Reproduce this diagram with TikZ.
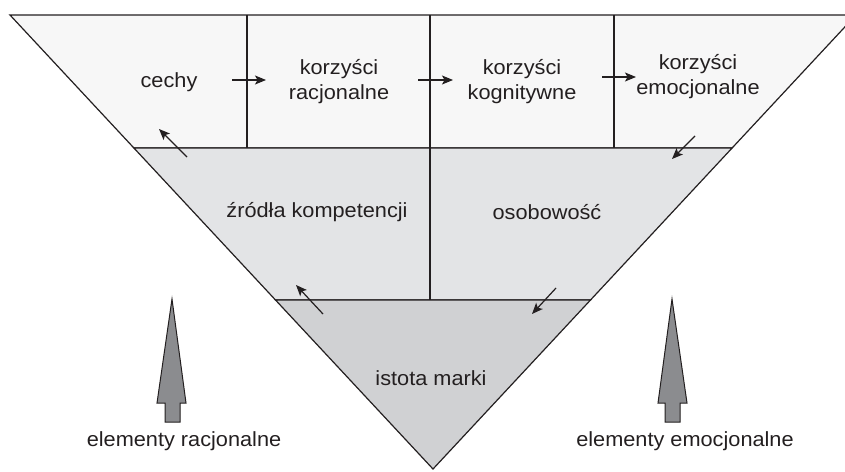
\documentclass[tikz,border=0pt]{standalone}
\usepackage{fontspec}
\setmainfont[FakeStretch=1.06]{Liberation Sans}
\usetikzlibrary{arrows.meta}
\definecolor{rowA}{HTML}{F7F7F7}
\definecolor{rowB}{HTML}{E3E4E6}
\definecolor{rowC}{HTML}{D0D1D3}
\definecolor{bigarrow}{HTML}{8B8C8F}
\definecolor{ink}{HTML}{231F20}
\tikzset{
  region/.style={draw=ink, line width=1.2pt, line join=miter},
  label/.style={font=\fontsize{20.5}{25}\selectfont, text=ink, align=center, inner sep=0pt},
  flow/.style={draw=ink, line width=1.2pt, -{Stealth[length=11pt,width=9pt,inset=2.5pt]}},
  bigarr/.style={draw=ink, fill=bigarrow, line width=1pt, line join=miter}
}
\begin{document}
\begin{tikzpicture}[x=1pt,y=-1pt]
\useasboundingbox (0,0) rectangle (845,471);
\begin{scope}
\clip (0,0) rectangle (845,471);
% regions
\path[region, fill=rowA] (10,15) -- (856,15) -- (732.1,148) -- (133.9,148) -- cycle;
\path[region, fill=rowB] (133.9,148) -- (732.1,148) -- (590.5,300) -- (275.5,300) -- cycle;
\path[region, fill=rowC] (275.5,300) -- (590.5,300) -- (433,469) -- cycle;
\draw[region] (247,15) -- (247,148);
\draw[region] (430,15) -- (430,148);
\draw[region] (614,15) -- (614,148);
\draw[region] (430,148) -- (430,300);
\end{scope}
% texts
\node[label] (cechy) at (169,82) {cechy};
\node[label] (kr) at (339,82) {korzyści\\racjonalne};
\node[label] (kk) at (522,82) {korzyści\\kognitywne};
\node[label] (ke) at (698,77) {korzyści\\emocjonalne};
\node[label] (zk) at (317,212) {źródła kompetencji};
\node[label] (os) at (547,212) {osobowość};
\node[label] (im) at (431,378) {istota marki};
\node[label] (er) at (184,441) {elementy racjonalne};
\node[label] (ee) at (685,441) {elementy emocjonalne};
% flow arrows
\coordinate (a1s) at (232,80); \coordinate (a1e) at (266,80);
\coordinate (a2s) at (418,80); \coordinate (a2e) at (453,80);
\coordinate (a3s) at (602,77); \coordinate (a3e) at (636,77);
\coordinate (a4s) at (695,136); \coordinate (a4e) at (672,159);
\coordinate (a5s) at (556,288); \coordinate (a5e) at (532,314);
\coordinate (a6s) at (323,314); \coordinate (a6e) at (296,285);
\coordinate (a7s) at (187,157); \coordinate (a7e) at (159,129);
\foreach \i in {1,...,7} {\draw[flow] (a\i s) -- (a\i e);}
% big arrows
\draw[bigarr] (172,299) -- (186,403) -- (180,403) -- (180,422) -- (165,422) -- (165,403) -- (157,403) -- cycle;
\draw[bigarr] (672,299) -- (687,403) -- (680,403) -- (680,422) -- (665,422) -- (665,403) -- (658,403) -- cycle;
\end{tikzpicture}
\end{document}
